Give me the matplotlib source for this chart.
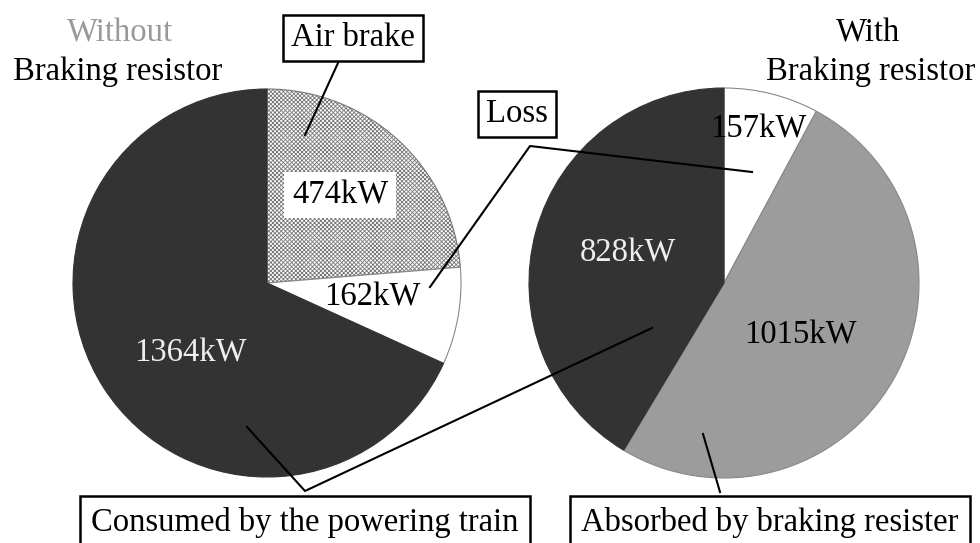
import matplotlib.pyplot as plt

plt.rcParams["font.family"] = ["Liberation Serif", "DejaVu Serif"]
plt.rcParams["hatch.linewidth"] = 0.6

# data
without_labels = ["Air brake", "Loss", "Consumed by the powering train"]
without_kw = [474, 162, 1364]
with_labels = ["Loss", "Absorbed by braking resister", "Consumed by the powering train"]
with_kw = [157, 1015, 828]

DARK = "#333333"
GRAY = "#9c9c9c"
H = 543


def py(y):
    # pixel row -> data y
    return H - y


fig = plt.figure(figsize=(9.8, 5.43), dpi=100)
ax = fig.add_axes([0, 0, 1, 1])

# left pie: without braking resistor
w1, _ = ax.pie(without_kw, center=(267, py(283)), radius=194, startangle=90,
               counterclock=False, frame=True,
               colors=["white", "white", DARK],
               wedgeprops=dict(linewidth=0.8, edgecolor="#888888"))
w1[0].set_hatch("xxxxxxxx")
w1[0].set_edgecolor("#777777")
w1[2].set_edgecolor(DARK)

# right pie: with braking resistor
w2, _ = ax.pie(with_kw, center=(724, py(283)), radius=195, startangle=90,
               counterclock=False, frame=True,
               colors=["white", GRAY, DARK],
               wedgeprops=dict(linewidth=0.8, edgecolor="#888888"))
w2[2].set_edgecolor(DARK)

ax.set_xlim(0, 980)
ax.set_ylim(0, H)
ax.set_aspect("auto")
ax.axis("off")

fs = 23.5
# titles
ax.text(120, py(33), "Without", ha="center", va="center", fontsize=fs, color="#999999")
ax.text(118, py(72), "Braking resistor", ha="center", va="center", fontsize=fs)
ax.text(868, py(33), "With", ha="center", va="center", fontsize=fs)
ax.text(871, py(72), "Braking resistor", ha="center", va="center", fontsize=fs)

# values on wedges
ax.text(340, py(195), f"{without_kw[0]}kW", ha="center", va="center", fontsize=fs,
        bbox=dict(boxstyle="square,pad=0.25", fc="white", ec="none"))
ax.text(372, py(297), f"{without_kw[1]}kW", ha="center", va="center", fontsize=fs)
ax.text(190, py(353), f"{without_kw[2]}kW", ha="center", va="center", fontsize=fs,
        color="#eeeeee")
ax.text(758, py(129), f"{with_kw[0]}kW", ha="center", va="center", fontsize=fs)
ax.text(800, py(335), f"{with_kw[1]}kW", ha="center", va="center", fontsize=fs)
ax.text(628, py(253), f"{with_kw[2]}kW", ha="center", va="center", fontsize=fs,
        color="#eeeeee")

# callout boxes
box = dict(boxstyle="square,pad=0.25", fc="white", ec="black", lw=1.8)
box_low = dict(boxstyle="square,pad=0.35", fc="white", ec="black", lw=1.8)
ax.text(353, py(38), without_labels[0], ha="center", va="center", fontsize=fs, bbox=box)
ax.text(517, py(114), with_labels[0], ha="center", va="center", fontsize=fs, bbox=box)
ax.text(305, py(523), without_labels[2], ha="center", va="center", fontsize=fs, bbox=box_low)
ax.text(770, py(523), with_labels[1], ha="center", va="center", fontsize=fs, bbox=box_low)

# leader lines
lk = dict(color="black", lw=1.5)
ax.plot([338, 305], [py(63), py(135)], **lk)
ax.plot([430, 530, 752], [py(287), py(146), py(172)], **lk)
ax.plot([247, 305, 652], [py(427), py(491), py(328)], **lk)
ax.plot([720, 703], [py(492), py(434)], **lk)

fig.savefig("out.png", dpi=100)
